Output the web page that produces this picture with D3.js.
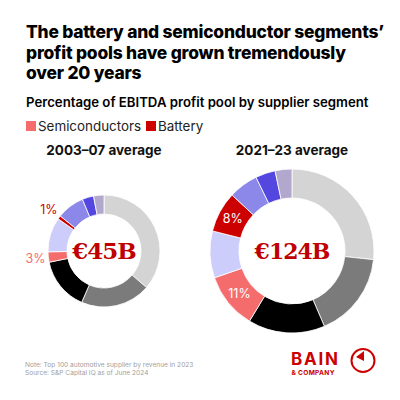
<!DOCTYPE html>
<html>
<head>
<meta charset="utf-8">
<script src="https://cdn.jsdelivr.net/npm/d3@7"></script>
<style>
  body { margin: 0; background: #fff; }
  svg { display: block; font-family: Inter, 'Noto Sans', sans-serif; }
</style>
</head>
<body>
<div id="chart"></div>
<script>
// segments, clockwise from 12 o'clock
const segments = [
  'Other 1', 'Other 2', 'Other 3', 'Semiconductors', 'Other 4',
  'Battery', 'Other 5', 'Other 6', 'Other 7'
];
const colors = [
  '#d4d4d4', '#7b7b7b', '#000000', '#f46c6c', '#cdcdfb',
  '#cc0000', '#8b88ea', '#5447e0', '#b2a7cd'
];
const values2003 = [36.4, 20.3, 15.3, 3, 10, 1, 8, 3.3, 3];
const values2021 = [26.6, 16.8, 15.1, 11, 9.2, 8, 5.8, 3.9, 3.3];
const periodLabels = ['2003\u201307 average', '2021\u201323 average'];
const totals = ['\u20ac45B', '\u20ac124B'];
const labelled = ['Semiconductors', 'Battery'];

const w = 400;
const h = 400;

const svg = d3
  .select('#chart')
  .append('svg')
  .attr('width', w)
  .attr('height', h);

// title block

const title = [
  'The battery and semiconductor segments\u2019',
  'profit pools have grown tremendously',
  'over 20 years'
];

svg
  .append('g')
  .selectAll('text')
  .data(title)
  .enter()
  .append('text')
  .attr('x', 26)
  .attr('y', (d, i) => 38 + i * 20.5)
  .attr('font-size', 17.4)
  .attr('font-weight', 800)
  .attr('letter-spacing', -0.2)
  .attr('fill', '#000')
  .text((d) => d);

svg
  .append('text')
  .attr('x', 26)
  .attr('y', 107)
  .attr('font-size', 13.2)
  .attr('font-weight', 600)
  .attr('fill', '#000')
  .text('Percentage of EBITDA profit pool by supplier segment');

// legend

const legendX = [26, 146];
const legend = svg.append('g').attr('id', 'legend');
labelled.forEach((name, i) => {
  legend
    .append('rect')
    .attr('x', legendX[i])
    .attr('y', 121)
    .attr('width', 10)
    .attr('height', 10)
    .attr('fill', colors[segments.indexOf(name)]);
  legend
    .append('text')
    .attr('x', legendX[i] + 12)
    .attr('y', 130.5)
    .attr('font-size', 13.4)
    .attr('fill', '#222')
    .text(name);
});

// donuts

const pie = d3.pie().sort(null).value((d) => d);

const donuts = [
  { values: values2003, cx: 104, cy: 251, r: 56, ir: 37, font: 23, labelR: 69, outside: true },
  { values: values2021, cx: 292, cy: 251, r: 82, ir: 53, font: 22, labelR: 68, outside: false }
];

donuts.forEach((cfg, k) => {
  const g = svg
    .append('g')
    .attr('transform', 'translate(' + cfg.cx + ',' + cfg.cy + ')');

  const arc = d3.arc().innerRadius(cfg.ir).outerRadius(cfg.r);
  const arcs = pie(cfg.values);

  g.selectAll('path')
    .data(arcs)
    .enter()
    .append('path')
    .attr('d', arc)
    .attr('fill', (d, i) => colors[i])
    .attr('stroke', '#fff')
    .attr('stroke-width', 0.8);

  // period title
  svg
    .append('text')
    .attr('x', cfg.cx)
    .attr('y', 155)
    .attr('text-anchor', 'middle')
    .attr('font-size', 13.5)
    .attr('font-weight', 700)
    .attr('fill', '#111')
    .text(periodLabels[k]);

  // total in the hole
  g.append('text')
    .attr('x', 0)
    .attr('y', 0)
    .attr('dy', '0.35em')
    .attr('text-anchor', 'middle')
    .attr('font-family', "'DejaVu Serif', serif")
    .attr('font-weight', 700)
    .attr('font-size', cfg.font)
    .attr('letter-spacing', -1)
    .attr('fill', '#c00000')
    .text(totals[k]);

  // percent labels for semis and battery
  const labelArc = cfg.outside
    ? d3.arc().innerRadius(cfg.labelR).outerRadius(cfg.labelR)
    : arc;

  labelled.forEach((name) => {
    const idx = segments.indexOf(name);
    const a = arcs[idx];
    const p = labelArc.centroid(a);
    g.append('text')
      .attr('x', p[0])
      .attr('y', p[1])
      .attr('dy', '0.35em')
      .attr('text-anchor', 'middle')
      .attr('font-size', 12.5)
      .attr('fill', cfg.outside ? colors[idx] : '#fff')
      .text(Math.round(a.value) + '%');
  });
});

// footnote

const notes = [
  'Note: Top 100 automotive supplier by revenue in 2023',
  'Source: S&P Capital IQ as of June 2024'
];

svg
  .append('g')
  .selectAll('text')
  .data(notes)
  .enter()
  .append('text')
  .attr('x', 25)
  .attr('y', (d, i) => 367 + i * 8)
  .attr('font-size', 6.6)
  .attr('fill', '#a0a0a0')
  .text((d) => d);

// Bain logo

const logo = svg.append('g').attr('transform', 'translate(291, 0)');
logo
  .append('text')
  .attr('x', 0)
  .attr('y', 365)
  .attr('font-size', 17)
  .attr('font-weight', 700)
  .attr('letter-spacing', 1.8)
  .attr('fill', '#cc0000')
  .text('BAIN');
logo
  .append('text')
  .attr('x', 0.5)
  .attr('y', 375)
  .attr('font-size', 6.6)
  .attr('font-weight', 700)
  .attr('letter-spacing', 0.3)
  .attr('fill', '#cc0000')
  .text('& COMPANY');
logo
  .append('circle')
  .attr('cx', 72)
  .attr('cy', 360.5)
  .attr('r', 11.5)
  .attr('fill', 'none')
  .attr('stroke', '#cc0000')
  .attr('stroke-width', 2);
logo
  .append('path')
  .attr('d', 'M73,361 L73,351 L65,357 Z')
  .attr('fill', '#cc0000');
</script>
</body>
</html>
